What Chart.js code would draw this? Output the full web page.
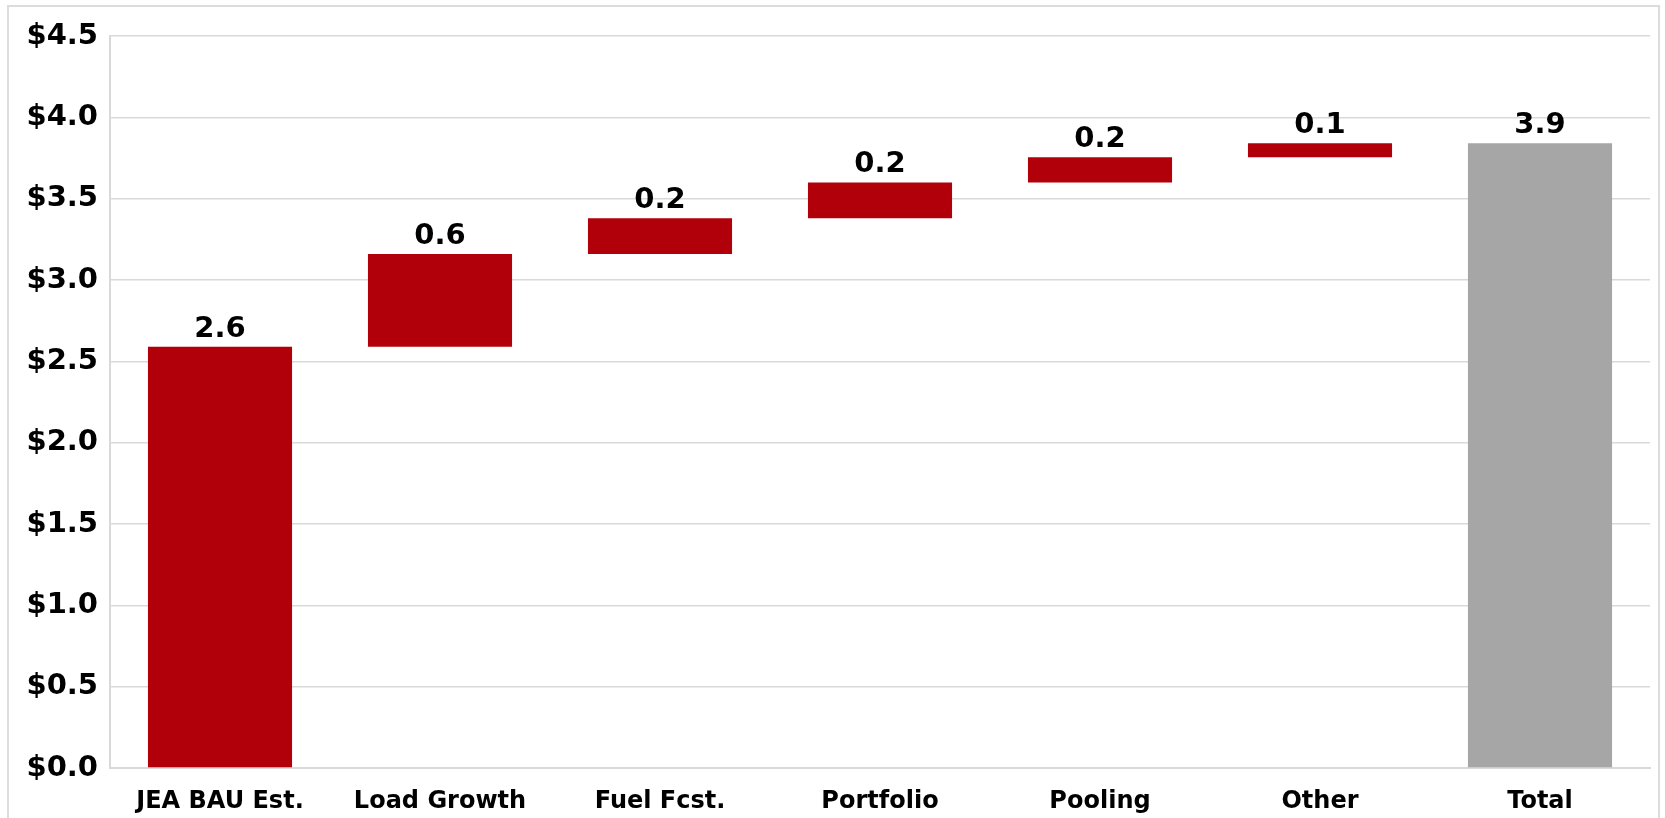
<!DOCTYPE html>
<html>
<head>
<meta charset="utf-8">
<script src="https://cdn.jsdelivr.net/npm/chart.js@4"></script>
<style>
  html, body { margin: 0; padding: 0; background: #fff; }
  #wrap { position: absolute; left: 0; top: 0; width: 1665px; height: 818px; }
  #frame { position: absolute; left: 7px; top: 5px; width: 1653px; height: 830px; border: 2px solid #dcdcdc; box-sizing: border-box; }
  canvas { position: absolute; left: 0; top: 0; }
</style>
</head>
<body>
<div id="wrap">
  <div id="frame"></div>
  <canvas id="c" width="1665" height="818"></canvas>
</div>
<script>
const categories = ["JEA BAU Est.", "Load Growth", "Fuel Fcst.", "Portfolio", "Pooling", "Other", "Total"];
const barBottoms = [0, 2.59, 3.16, 3.38, 3.60, 3.755, 0];
const barTops = [2.59, 3.16, 3.38, 3.60, 3.755, 3.84, 3.84];
const valueLabels = ["2.6", "0.6", "0.2", "0.2", "0.2", "0.1", "3.9"];
const barColors = ["#b1000a", "#b1000a", "#b1000a", "#b1000a", "#b1000a", "#b1000a", "#a5a6a5"];
const yTicks = [0, 0.5, 1.0, 1.5, 2.0, 2.5, 3.0, 3.5, 4.0, 4.5];

const floating = categories.map((c, i) => [barBottoms[i], barTops[i]]);

const labelPlugin = {
  id: 'valueLabels',
  afterDatasetsDraw(chart) {
    const ctx = chart.ctx;
    const meta = chart.getDatasetMeta(0);
    ctx.save();
    ctx.font = 'bold 29px "DejaVu Sans"';
    ctx.fillStyle = '#000';
    ctx.textAlign = 'center';
    ctx.textBaseline = 'alphabetic';
    meta.data.forEach((bar, i) => {
      const top = Math.min(bar.y, bar.base);
      ctx.fillText(valueLabels[i], bar.x, top - 10);
    });
    ctx.restore();
  }
};

new Chart(document.getElementById('c'), {
  type: 'bar',
  data: {
    labels: categories,
    datasets: [{
      data: floating,
      backgroundColor: barColors,
      borderWidth: 0,
      barPercentage: 0.655,
      categoryPercentage: 1.0
    }]
  },
  options: {
    responsive: false,
    animation: false,
    events: [],
    layout: { padding: { top: 36, right: 15, left: 0, bottom: 0 } },
    plugins: { legend: { display: false }, tooltip: { enabled: false } },
    scales: {
      x: {
        grid: { display: false, drawTicks: false },
        border: { display: true, color: '#d9d9d9', width: 2 },
        ticks: {
          color: '#000',
          font: { family: 'DejaVu Sans', weight: 'bold', size: 24 },
          padding: 19,
          maxRotation: 0,
          autoSkip: false
        },
        afterFit(scale) { scale.height = 50; }
      },
      y: {
        min: 0,
        max: 4.5,
        afterBuildTicks(scale) { scale.ticks = yTicks.map(v => ({ value: v })); },
        grid: { color: '#d9d9d9', lineWidth: 1.5, drawTicks: false },
        border: { display: true, color: '#d9d9d9', width: 2 },
        ticks: {
          color: '#000',
          font: { family: 'DejaVu Sans', weight: 'bold', size: 29 },
          padding: 12,
          callback: (v) => '$' + Number(v).toFixed(1)
        },
        afterFit(scale) { scale.width = 110; }
      }
    }
  },
  plugins: [labelPlugin]
});
</script>
</body>
</html>
